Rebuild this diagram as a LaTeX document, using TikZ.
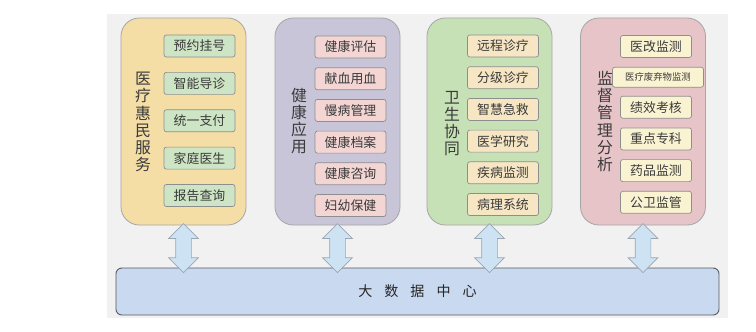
\documentclass[tikz,border=0pt]{standalone}
\usepackage{fontspec}
\usepackage{xcolor}
\usepackage{tikz}
\usetikzlibrary{arrows.meta, positioning, shapes.arrows}
\newfontfamily\cjk{Noto Sans CJK SC}
\definecolor{canvas}{HTML}{F1F1F1}
\definecolor{ink}{HTML}{3A3A3A}
\definecolor{groupline}{HTML}{A6A6A6}
\definecolor{itemline}{HTML}{8E8E8E}
\definecolor{medfill}{HTML}{F4DEA6}
\definecolor{healthfill}{HTML}{C8C5D8}
\definecolor{collabfill}{HTML}{C7E1B7}
\definecolor{superfill}{HTML}{E6C4C7}
\definecolor{meditem}{HTML}{CDE5C4}
\definecolor{healthitem}{HTML}{F3D6D4}
\definecolor{collabitem}{HTML}{F7E6C3}
\definecolor{superitem}{HTML}{FAF3D2}
\definecolor{datafill}{HTML}{C9D9EF}
\definecolor{dataline}{HTML}{555A60}
\definecolor{linkfill}{HTML}{CDE3F4}
\definecolor{linkline}{HTML}{9BA6B0}

\begin{document}
\begin{tikzpicture}[
    x=0.03cm, y=-0.03cm,
    node distance=0.27cm,
    group/.style={draw=groupline, line width=0.7pt, rounded corners=0.55cm, minimum width=3.75cm, minimum height=6.21cm},
    title/.style={align=center, text=ink, font=\cjk\fontsize{13.5}{14.6}\selectfont},
    item/.style={draw=itemline, line width=0.6pt, rounded corners=2pt, inner sep=0pt, minimum width=2.13cm, minimum height=0.66cm, text=ink, font=\cjk\fontsize{11}{13}\selectfont},
    data/.style={draw=dataline, line width=0.8pt, fill=datafill, rounded corners=5pt, minimum width=18.09cm, minimum height=1.41cm, text=black!85, font=\cjk\fontsize{12}{14}\selectfont},
    link/.style={double arrow, draw=linkline, fill=linkfill, line width=0.6pt, double arrow head extend=0.21cm, inner xsep=0pt, inner ysep=0.225cm, text height=0pt, text depth=0pt, minimum width=0pt, minimum height=1.47cm, sloped}
]
\useasboundingbox (0,0) rectangle (756,331);
\fill[canvas] (107,14) rectangle (728,318);

% four service groups
\node[group, fill=medfill] (med) at (183.5,121.5) {};
\node[group, fill=healthfill] (health) at (337.5,121.5) {};
\node[group, fill=collabfill] (collab) at (489.5,121.5) {};
\node[group, fill=superfill] (super) at (643,121.5) {};

\node[title] (medT) at (143,122) {医\\疗\\惠\\民\\服\\务};
\node[title] (healthT) at (299,121) {健\\康\\应\\用};
\node[title] (collabT) at (452,123.5) {卫\\生\\协\\同};
\node[title] (superT) at (605,121.5) {监\\督\\管\\理\\分\\析};

% 医疗惠民服务
\begin{scope}[node distance=0.44cm, every node/.append style={fill=meditem}]
\node[item] (booking) at (199.5,46) {预约挂号};
\node[item, below=of booking] (guide) {智能导诊};
\node[item, below=of guide] (payment) {统一支付};
\node[item, below=of payment] (doctor) {家庭医生};
\node[item, below=of doctor] (report) {报告查询};
\end{scope}

% 健康应用
\begin{scope}[every node/.append style={fill=healthitem}]
\node[item] (assess) at (350.5,47) {健康评估};
\node[item, below=of assess] (blood) {献血用血};
\node[item, below=of blood] (chronic) {慢病管理};
\node[item, below=of chronic] (records) {健康档案};
\node[item, below=of records] (consult) {健康咨询};
\node[item, below=of consult] (maternal) {妇幼保健};
\end{scope}

% 卫生协同
\begin{scope}[every node/.append style={fill=collabitem}]
\node[item] (remote) at (503,46) {远程诊疗};
\node[item, below=of remote] (tiered) {分级诊疗};
\node[item, below=of tiered] (emergency) {智慧急救};
\node[item, below=of emergency] (research) {医学研究};
\node[item, below=of research] (disease) {疾病监测};
\node[item, below=of disease] (pathology) {病理系统};
\end{scope}

% 监督管理分析
\begin{scope}[every node/.append style={fill=superitem}]
\node[item] (reform) at (656,46.5) {医改监测};
\node[item, below=of reform, xshift=0.06cm, minimum width=2.73cm, minimum height=0.6cm, font=\cjk\fontsize{8}{10}\selectfont] (waste) {医疗废弃物监测};
\node[item, below=of reform, yshift=-0.87cm] (performance) {绩效考核};
\node[item, below=of performance] (specialty) {重点专科};
\node[item, below=of specialty] (drugs) {药品监测};
\node[item, below=of drugs] (publichealth) {公卫监管};
\end{scope}

\node[data] (data) at (417.5,291.5) {大\hspace{0.36cm}数\hspace{0.36cm}据\hspace{0.36cm}中\hspace{0.36cm}心};

\path (med.south) -- node[link, pos=0.54]{} (med.south |- data.north);
\path (health.south) -- node[link, pos=0.54]{} (health.south |- data.north);
\path (collab.south) -- node[link, pos=0.54]{} (collab.south |- data.north);
\path (super.south) -- node[link, pos=0.54]{} (super.south |- data.north);
\end{tikzpicture}
\end{document}
